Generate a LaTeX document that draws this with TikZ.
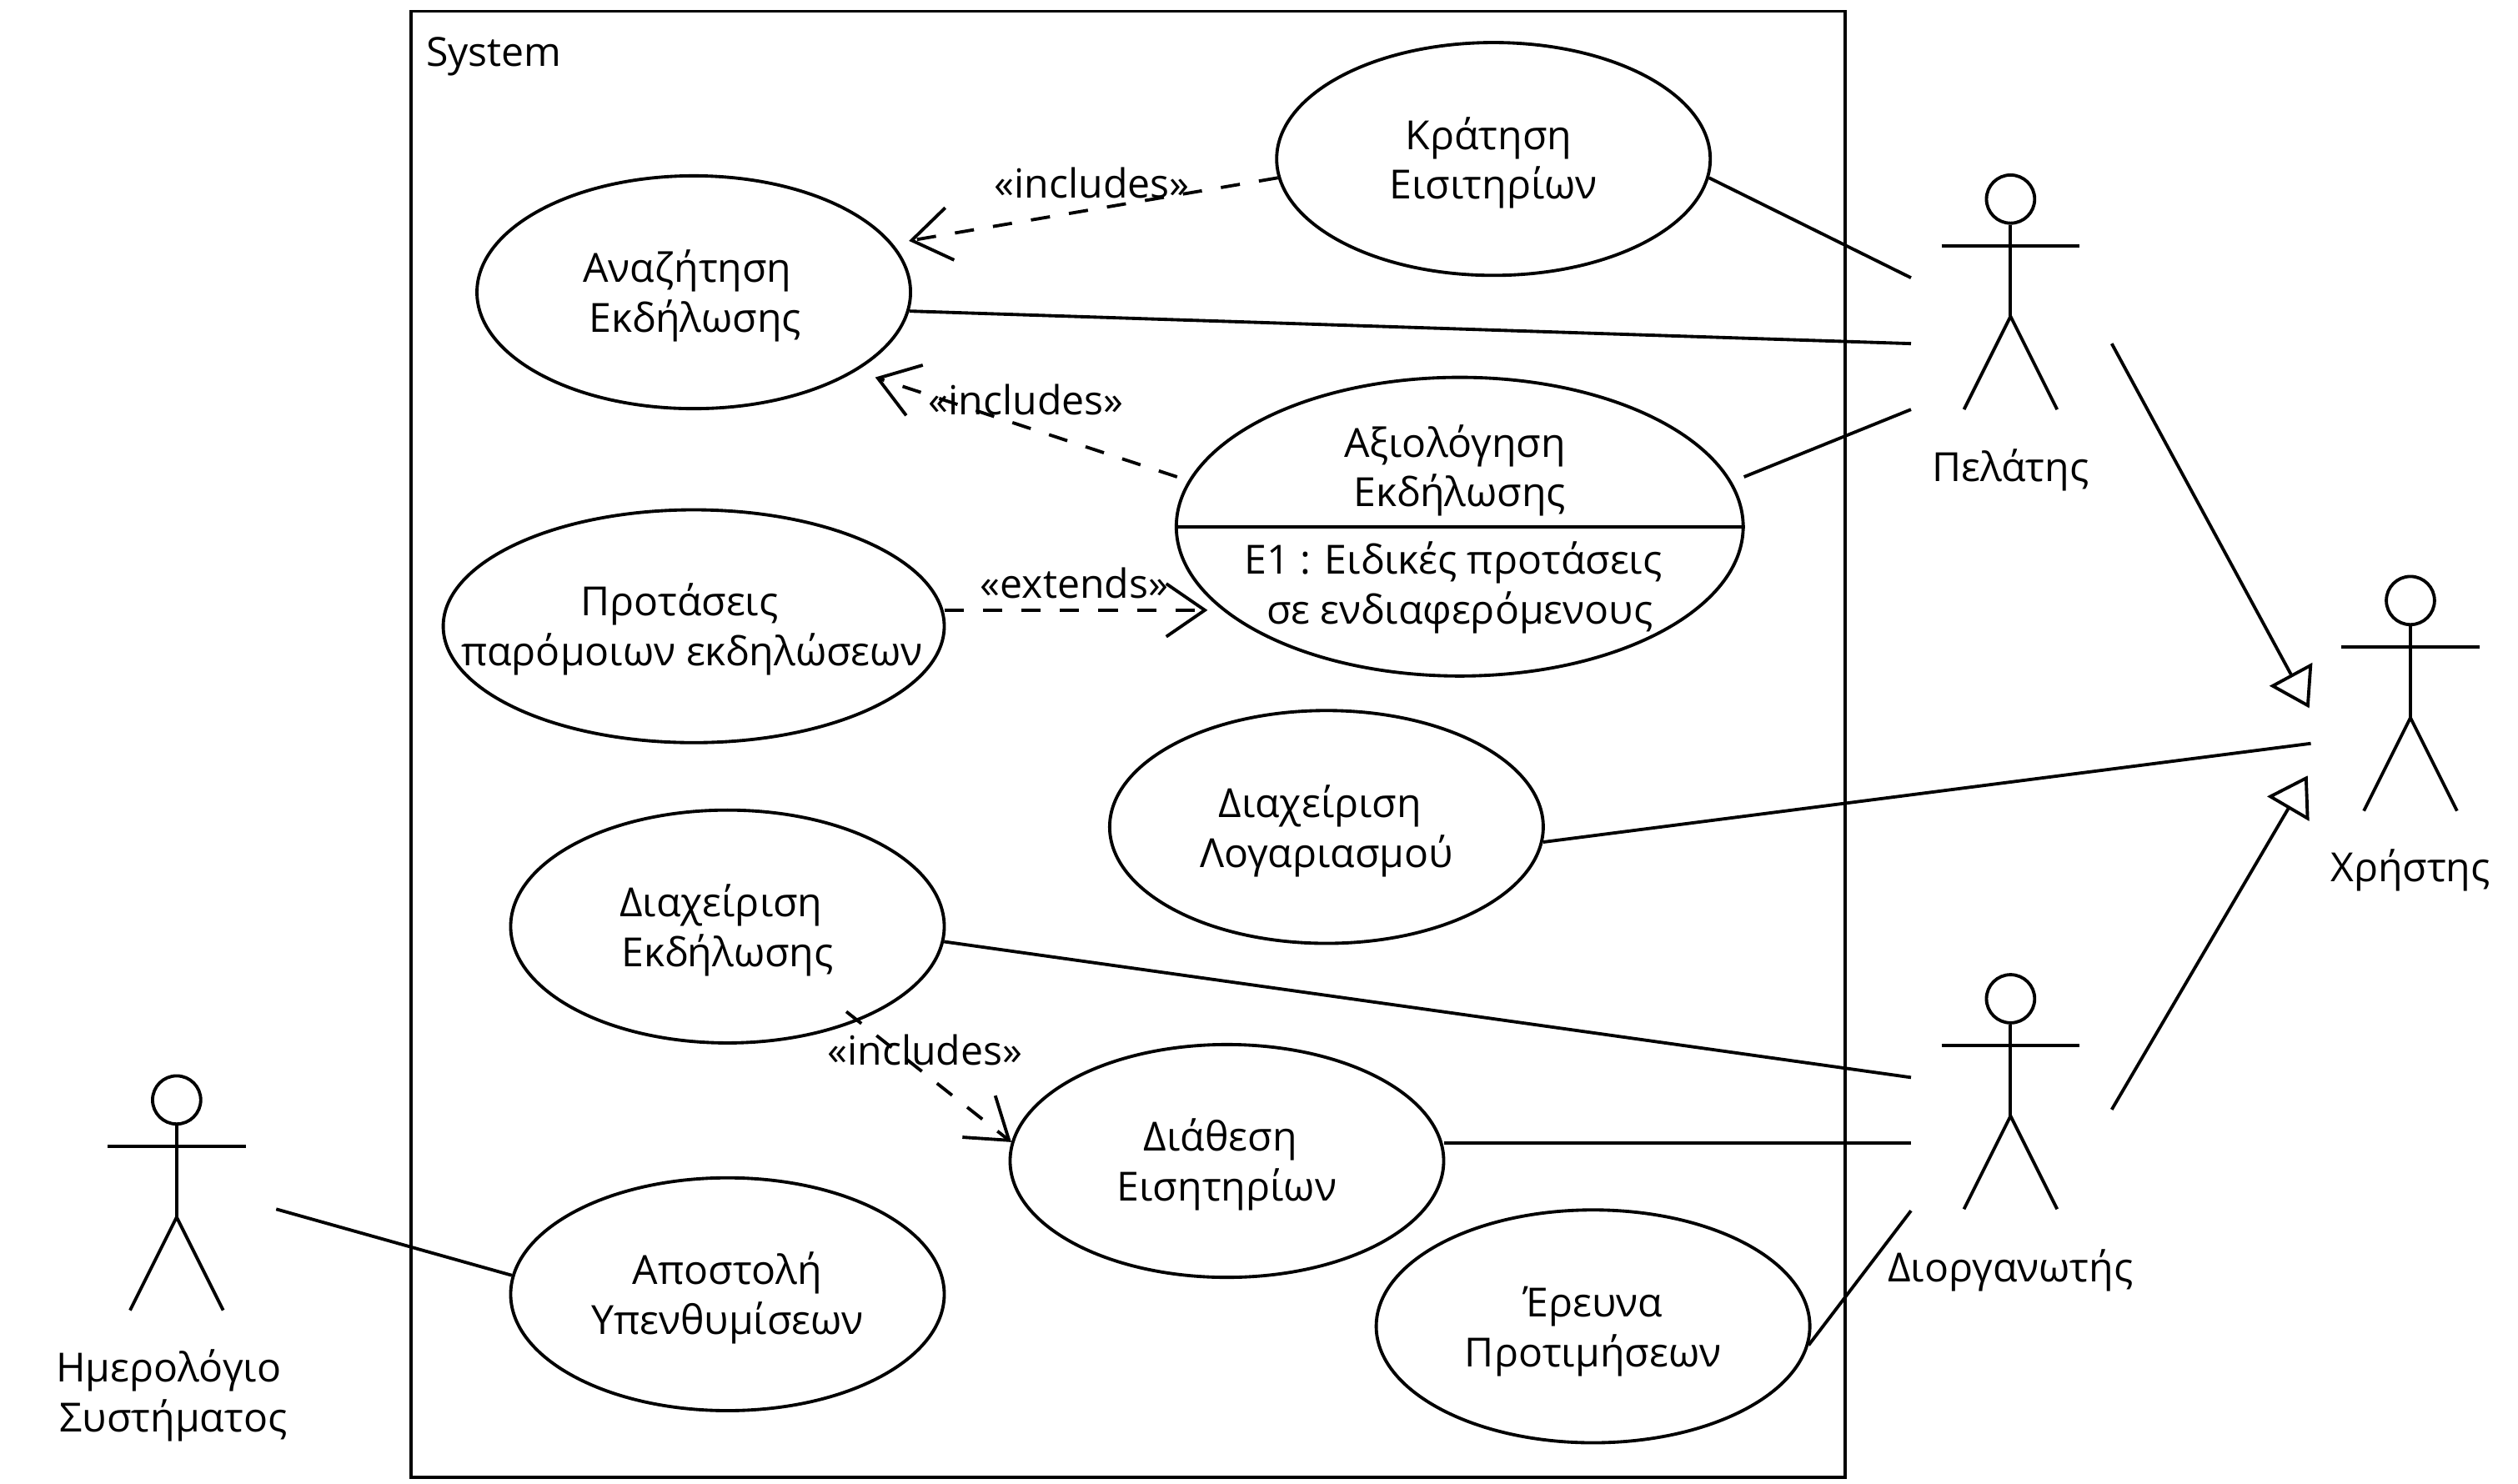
\documentclass[tikz,border=0pt]{standalone}
\usepackage{fontspec}
\setmainfont{Open Sans}
\usetikzlibrary {arrows.meta,
                 shapes.geometric}
\newcommand{\twolines}[2]{\rule{0pt}{12.5pt}#1\\\rule[-3pt]{0pt}{3pt}#2}
\tikzset{
        base/.style={align=center, font=\fontsize{12.5}{15.5}\selectfont, inner sep=0pt},
        assoc/.style={line width=1pt},
        usecase/.style={base, assoc, draw, ellipse, minimum width=135pt, minimum height=72.5pt},
        depend/.style={assoc, dash pattern=on 6pt off 6pt, -{Straight Barb[length=12pt, width=16.5pt, line width=1pt]}},
        general/.style={assoc, -{Triangle[open, length=12pt, width=15pt, line width=1pt]}},
        actor/.pic={
            \node[draw, circle, line width=1pt, minimum size=15pt, inner sep=0pt] (-head) at (0,0) {};
            \coordinate (-hip) at (0,73);
            \draw[assoc] (-head) -- (-hip);
            \draw[assoc] (-43,29) -- (43,29);
            \draw[assoc] (-29,131) -- (-hip) -- (29,131);
        },
 }
\begin{document}
\begin{tikzpicture}[x=0.5pt, y=-0.5pt]
    \useasboundingbox (0,0) rectangle (1568,924);

    \node[draw, assoc, anchor=north west, minimum width=446.5pt, minimum height=456.5pt, inner sep=0pt] (system) at (255,6) {};
    \node[base, anchor=west] (systemname) at (265,35) {System};

    \node[usecase] (search) at (432,182) {\twolines{Αναζήτηση\hspace*{4pt}}{\hspace*{1pt}Εκδήλωσης}};
    \node[usecase] (book) at (930,99) {\twolines{Κράτηση\hspace*{3pt}}{Εισιτηρίων}};
    \node[usecase, minimum width=156pt] (similar) at (432,390) {};
    \node[base] (similartext) at (431,392) {Προτάσεις\hspace*{8pt}\\παρόμοιων εκδηλώσεων};
    \node[usecase, minimum width=176.5pt, minimum height=93pt] (rate) at (909,328) {};
    \node[base] (ratetop) at (906,293) {Αξιολόγηση\\\hspace*{3pt}Εκδήλωσης};
    \node[base] (ratebot) at (905,366) {Ε1 : Ειδικές προτάσεις\\\hspace*{4pt}σε ενδιαφερόμενους};
    \node[usecase] (account) at (826,515) {\twolines{Διαχείριση\hspace*{4pt}}{Λογαριασμού}};
    \node[usecase] (manage) at (453,577) {\twolines{Διαχείριση\hspace*{4pt}}{Εκδήλωσης}};
    \node[usecase] (offer) at (764,723) {\twolines{Διάθεση\hspace*{4pt}}{Εισητηρίων}};
    \node[usecase] (remind) at (453,806) {\twolines{Αποστολή}{Υπενθυμίσεων}};
    \node[usecase] (survey) at (992,826) {\twolines{Έρευνα}{Προτιμήσεων}};
    \draw[assoc] (rate.west) -- (rate.east);

    \pic (customer) at (1252,124) {actor};
    \pic (user) at (1501,374) {actor};
    \pic (organizer) at (1252,622) {actor};
    \pic (calendar) at (110,685) {actor};
    \node[base] (customername) at (1252,293) {Πελάτης};
    \node[base] (username) at (1501,542) {Χρήστης};
    \node[base] (organizername) at (1252,791) {Διοργανωτής};
    \node[base] (calendarname) at (108,869) {Ημερολόγιο\hspace*{3pt}\\Συστήματος};

    % free ends
    \coordinate (customera) at (1190,173);
    \coordinate (customerb) at (1190,214);
    \coordinate (customerc) at (1190,255);
    \coordinate (customerd) at (1315,214);
    \coordinate (usera) at (1439,463);
    \coordinate (userb) at (1438,441);
    \coordinate (userc) at (1437,483);
    \coordinate (organizera) at (1190,671);
    \coordinate (organizerb) at (1190,712);
    \coordinate (organizerc) at (1190,754);
    \coordinate (organizerd) at (1315,691);
    \coordinate (calendara) at (172,753);
    \coordinate (searcha) at (566,150);
    \coordinate (searchb) at (545,235);
    \coordinate (managea) at (527,630);
    \coordinate (ratea) at (752,380);
    \coordinate (rateb) at (733,297);
    \coordinate (ratec) at (1086,297);
    \coordinate (similara) at (588,380);
    \coordinate (offera) at (899,712);

    \draw[assoc] (book.-5) -- (customera);
    \draw[assoc] (search.-5) -- (customerb);
    \draw[assoc] (ratec) -- (customerc);
    \draw[assoc] (account.-4) -- (usera);
    \draw[assoc] (manage.-4) -- (organizera);
    \draw[assoc] (offera) -- (organizerb);
    \draw[assoc] (survey.-5) -- (organizerc);
    \draw[assoc] (calendara) -- (remind.175);

    \draw[general] (customerd) -- (userb);
    \draw[general] (organizerd) -- (userc);

    \draw[depend] (book.185) -- (searcha);
    \draw[depend] (rateb) -- (searchb);
    \draw[depend] (similara) -- (ratea);
    \draw[depend] (managea) -- (offer.175);

    \node[base] (bookinc) at (680,114) {«includes»};
    \node[base] (rateinc) at (639,249) {«includes»};
    \node[base] (similarext) at (669,363) {«extends»};
    \node[base] (manageinc) at (576,654) {«includes»};
\end{tikzpicture}
\end{document}
